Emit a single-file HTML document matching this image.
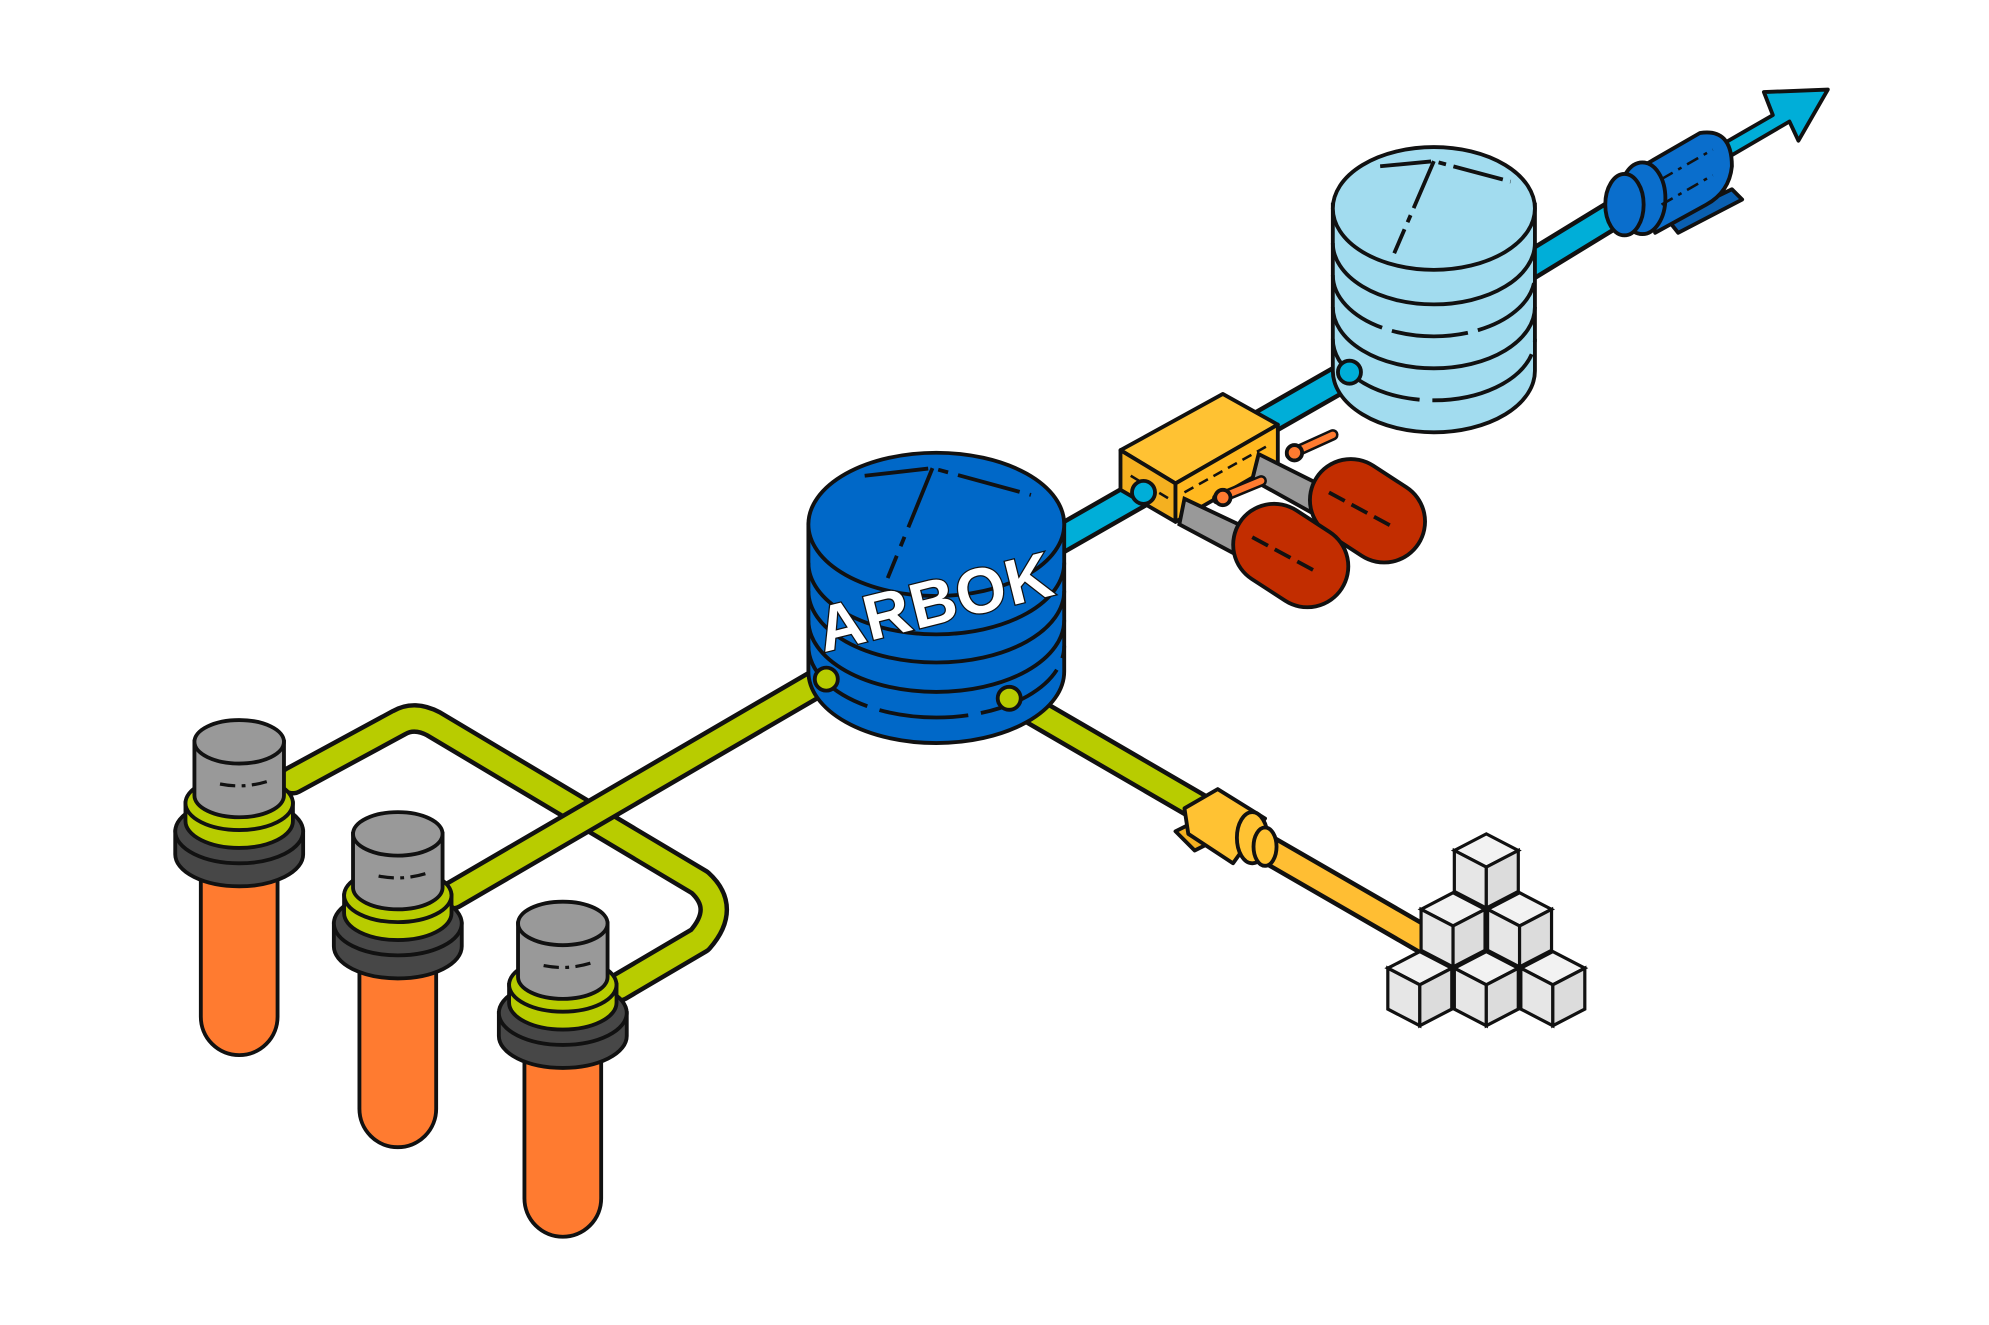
<!DOCTYPE html>
<html><head><meta charset="utf-8"><style>
html,body{margin:0;padding:0;background:#fff;}
svg{display:block;}
</style></head><body>
<svg width="1989" height="1325" viewBox="0 0 1555 1036" preserveAspectRatio="none" xmlns="http://www.w3.org/2000/svg">
<defs>
<g id="tube">
  <path d="M-30 90 V215 A30 30 0 0 0 30 215 V90 Z" fill="#ff7b30" stroke="#111" stroke-width="3"/>
  <path d="M-50 70 V88 A50 25 0 0 0 50 88 V70 Z" fill="#474747" stroke="#111" stroke-width="3"/>
  <ellipse cx="0" cy="70" rx="50" ry="25" fill="#474747" stroke="#111" stroke-width="3"/>
  <path d="M-42 48 V62 A42 21 0 0 0 42 62 V48 Z" fill="#b8cc00" stroke="#111" stroke-width="3"/>
  <ellipse cx="0" cy="48" rx="42" ry="21" fill="#b8cc00" stroke="#111" stroke-width="3"/>
  <path d="M-35 0 V42 A35 17 0 0 0 35 42 V0 Z" fill="#999" stroke="#111" stroke-width="3"/>
  <ellipse cx="0" cy="0" rx="35" ry="17" fill="#999" stroke="#111" stroke-width="3"/>
  <path d="M-15 33 Q5 37 25 30" fill="none" stroke="#111" stroke-width="2.5" stroke-dasharray="12 5 3 5"/>
</g>
<g id="cube">
  <path d="M0 -13 L25 0 L0 13 L-25 0 Z" fill="#f2f2f2" stroke="#111" stroke-width="2.5"/>
  <path d="M-25 0 V32 L0 45 V13 Z" fill="#e6e6e6" stroke="#111" stroke-width="2.5"/>
  <path d="M25 0 V32 L0 45 V13 Z" fill="#dcdcdc" stroke="#111" stroke-width="2.5"/>
</g>
</defs>

<g transform="translate(-6 0)">
<!-- blue pipe main -->
<path d="M820 430 L1065 290" stroke="#111" stroke-width="24" stroke-linecap="round"/>
<path d="M820 430 L1065 290" stroke="#00aed8" stroke-width="17" stroke-linecap="round"/>
<path d="M1190 215 L1280 160" stroke="#111" stroke-width="24" stroke-linecap="round"/>
<path d="M1190 215 L1280 160" stroke="#00aed8" stroke-width="17" stroke-linecap="round"/>
<path d="M1340 120 L1392 90 L1385 72 L1435 70 L1412 110 L1405 95 L1352 126 Z" fill="#00aed8" stroke="#111" stroke-width="3" stroke-linejoin="round"/>

<!-- motor -->
<g stroke="#111" stroke-width="3" stroke-linejoin="round">
  <path d="M1310 172 L1360 148 L1368 156 L1318 182 Z" fill="#0a5fb0"/>
  <path d="M1290 130 L1335 104 Q1360 100 1360 130 Q1358 150 1340 160 L1300 182 Z" fill="#0a6ecc"/>
  <ellipse cx="1290" cy="155" rx="18" ry="28" fill="#0a6ecc"/>
  <ellipse cx="1276" cy="160" rx="15" ry="24" fill="#0a6ecc"/>
  <path d="M1305 140 L1345 117 M1305 160 L1345 137" fill="none" stroke-dasharray="10 5 3 5" stroke-width="2"/>
</g>

<!-- light blue cylinder -->
<g stroke="#111" stroke-width="3">
  <path d="M1048 160 V290 A79 48 0 0 0 1206 290 V160 Z" fill="#a2dcef"/>
  <path d="M1048 190 A79 48 0 0 0 1206 190" fill="none"/>
  <path d="M1048 215 A79 48 0 0 0 1206 215" fill="none" stroke-dasharray="60 8"/>
  <path d="M1048 240 A79 48 0 0 0 1206 240" fill="none"/>
  <path d="M1048 265 A79 48 0 0 0 1206 265" fill="none" stroke-dasharray="90 10"/>
  <ellipse cx="1127" cy="163" rx="79" ry="48" fill="#a2dcef"/>
  <path d="M1085 130 L1127 126 L1187 142 M1127 126 L1096 198" fill="none" stroke-dasharray="40 6 6 6"/>
</g>
<circle cx="1061" cy="291" r="9" fill="#00aed8" stroke="#111" stroke-width="3"/>

<!-- yellow box -->
<g stroke="#111" stroke-width="3" stroke-linejoin="round">
  <path d="M882 352 L962 308 L1005 332 L925 378 Z" fill="#ffc233"/>
  <path d="M882 352 V383 L925 408 V378 Z" fill="#f4b020"/>
  <path d="M925 378 L1005 332 V362 L925 408 Z" fill="#ffb81f"/>
  <path d="M890 372 L920 390 M932 385 L998 348" fill="none" stroke-dasharray="8 5" stroke-width="2"/>
</g>
<circle cx="900" cy="385" r="9" fill="#00aed8" stroke="#111" stroke-width="3"/>

<!-- red capsules -->
<g stroke="#111" stroke-width="3">
  <path d="M990 355 L1040 380 L1030 400 L985 375 Z" fill="#999"/>
  <rect x="-45" y="-32" width="95" height="64" rx="32" transform="translate(1073 398) rotate(33)" fill="#c22d00"/>
  <path d="M1045 385 L1095 412" stroke-dasharray="14 6" fill="none"/>
  <path d="M1015 355 L1048 340" stroke="#111" stroke-width="9" stroke-linecap="round"/>
  <path d="M1015 355 L1048 340" stroke="#ff7b30" stroke-width="5" stroke-linecap="round"/>
  <circle cx="1018" cy="354" r="6" fill="#ff7b30"/>
  <path d="M932 390 L985 415 L975 435 L928 410 Z" fill="#999"/>
  <rect x="-45" y="-32" width="95" height="64" rx="32" transform="translate(1013 433) rotate(33)" fill="#c22d00"/>
  <path d="M985 420 L1035 447" stroke-dasharray="14 6" fill="none"/>
  <path d="M958 390 L992 376" stroke="#111" stroke-width="9" stroke-linecap="round"/>
  <path d="M958 390 L992 376" stroke="#ff7b30" stroke-width="5" stroke-linecap="round"/>
  <circle cx="962" cy="389" r="6" fill="#ff7b30"/>
</g>

<!-- green pipes -->
<g fill="none" stroke-linecap="round" stroke-linejoin="round">
  <path d="M235 610 L318 565 Q330 558 345 566 L553 690 Q575 710 553 735 L490 772" stroke="#111" stroke-width="24"/>
  <path d="M235 610 L318 565 Q330 558 345 566 L553 690 Q575 710 553 735 L490 772" stroke="#b8cc00" stroke-width="17"/>
  <path d="M360 700 L652 530" stroke="#111" stroke-width="24"/>
  <path d="M360 700 L652 530" stroke="#b8cc00" stroke-width="17"/>
  <path d="M795 545 L950 635" stroke="#111" stroke-width="24"/>
  <path d="M795 545 L950 635" stroke="#b8cc00" stroke-width="17"/>
  <path d="M990 660 L1120 735" stroke="#111" stroke-width="24"/>
  <path d="M990 660 L1120 735" stroke="#ffbe33" stroke-width="17"/>
</g>
<!-- coupling -->
<g stroke="#111" stroke-width="3" stroke-linejoin="round">
  <path d="M925 650 L945 640 L960 655 L940 665 Z" fill="#f4b020"/>
  <path d="M932 632 L958 617 L995 640 L970 675 L935 652 Z" fill="#ffc233"/>
  <ellipse cx="985" cy="655" rx="12" ry="20" fill="#ffc233"/>
  <ellipse cx="995" cy="662" rx="9" ry="15" fill="#ffc233"/>
</g>

<!-- ARBOK cylinder -->
<g stroke="#111" stroke-width="3">
  <path d="M638 410 V525 A100 56 0 0 0 838 525 V410 Z" fill="#0068c8"/>
  <path d="M638 440 A100 56 0 0 0 838 440" fill="none"/>
  <path d="M638 462 A100 56 0 0 0 838 462" fill="none"/>
  <path d="M638 485 A100 56 0 0 0 838 485" fill="none"/>
  <path d="M638 505 A100 56 0 0 0 838 505" fill="none" stroke-dasharray="70 10"/>
  <ellipse cx="738" cy="410" rx="100" ry="56" fill="#0068c8"/>
  <path d="M682 372 L735 366 L812 387 M735 366 L700 452" fill="none" stroke-dasharray="50 8 8 8"/>
</g>
<text x="0" y="0" transform="translate(650 510) rotate(-14)" font-family="Liberation Sans, sans-serif" font-weight="bold" font-size="50" fill="#fff" stroke="#111" stroke-width="2" paint-order="stroke" letter-spacing="1">ARBOK</text>
<circle cx="652" cy="531" r="9" fill="#b8cc00" stroke="#111" stroke-width="3"/>
<circle cx="795" cy="546" r="9" fill="#b8cc00" stroke="#111" stroke-width="3"/>

<!-- tubes -->
<use href="#tube" x="193" y="580"/>
<use href="#tube" x="317" y="652"/>
<use href="#tube" x="446" y="722"/>

<!-- cubes -->
<use href="#cube" x="1168" y="665"/>
<use href="#cube" x="1142" y="711"/>
<use href="#cube" x="1194" y="711"/>
<use href="#cube" x="1116" y="757"/>
<use href="#cube" x="1168" y="757"/>
<use href="#cube" x="1220" y="757"/>
</g>
</svg>
</body></html>
